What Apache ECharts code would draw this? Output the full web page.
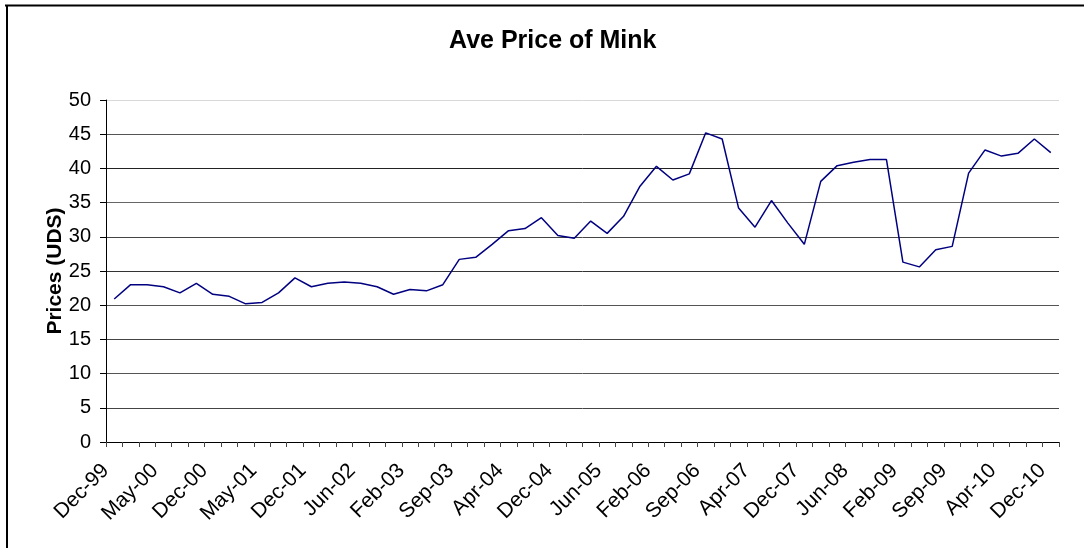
<!DOCTYPE html>
<html>
<head>
<meta charset="utf-8">
<script src="https://cdn.jsdelivr.net/npm/echarts@6/dist/echarts.min.js"></script>
<style>
html,body{margin:0;padding:0;background:#fff;}
#chart{width:1084px;height:548px;}
</style>
</head>
<body>
<div id="chart"></div>
<script>
const categories = [
  'Dec-99','Feb-00','Mar-00','May-00','Jun-00','Sep-00','Dec-00','Feb-01','Mar-01','May-01',
  'Jun-01','Sep-01','Dec-01','Feb-02','Apr-02','Jun-02','Sep-02','Dec-02','Feb-03','Apr-03',
  'Jun-03','Sep-03','Dec-03','Feb-04','Apr-04','Jun-04','Sep-04','Dec-04','Feb-05','Apr-05',
  'Jun-05','Sep-05','Dec-05','Feb-06','Apr-06','Jun-06','Sep-06','Dec-06','Feb-07','Apr-07',
  'Jun-07','Sep-07','Dec-07','Feb-08','Apr-08','Jun-08','Sep-08','Dec-08','Feb-09','Apr-09',
  'Jun-09','Sep-09','Dec-09','Feb-10','Apr-10','Jun-10','Sep-10','Dec-10'
];
const prices = [
  20.9, 23.0, 23.0, 22.7, 21.8, 23.2, 21.6, 21.3, 20.2, 20.4,
  21.8, 24.0, 22.7, 23.2, 23.4, 23.2, 22.7, 21.6, 22.3, 22.1,
  23.0, 26.7, 27.0, 28.9, 30.9, 31.2, 32.8, 30.2, 29.8, 32.3,
  30.5, 33.0, 37.4, 40.3, 38.3, 39.2, 45.2, 44.3, 34.2, 31.4,
  35.3, 32.0, 28.9, 38.1, 40.4, 40.9, 41.3, 41.3, 26.3, 25.6,
  28.1, 28.6, 39.3, 42.7, 41.8, 42.2, 44.3, 42.3
];
const yTicks = { min: 0, max: 50, interval: 5 };
const titleText = 'Ave Price of Mink';
const yName = 'Prices (UDS)';

const chart = echarts.init(document.getElementById('chart'), null, { renderer: 'canvas' });
const gridColors = ['#000', '#444', '#555', '#444', '#555', '#333', '#444', '#666', '#222', '#555', '#d8d8d8'];
chart.setOption({
  animation: false,
  backgroundColor: '#fff',
  title: {
    text: titleText,
    left: 444,
    top: 24,
    textStyle: { fontFamily: 'Liberation Sans, Arial, sans-serif', fontSize: 25, fontWeight: 'bold', color: '#000' }
  },
  grid: { left: 106, right: 25, top: 100, bottom: 106, containLabel: false },
  xAxis: {
    type: 'category',
    data: categories,
    boundaryGap: true,
    axisLine: { lineStyle: { color: '#000', width: 1 } },
    axisTick: { show: true, interval: 0, length: 5, lineStyle: { color: '#444' } },
    axisLabel: {
      interval: 2,
      rotate: 45,
      margin: 17,
      padding: [0, 12, 0, 0],
      fontFamily: 'Liberation Sans, Arial, sans-serif',
      fontSize: 21,
      color: '#000'
    },
    splitLine: { show: false }
  },
  yAxis: {
    type: 'value',
    min: yTicks.min,
    max: yTicks.max,
    interval: yTicks.interval,
    name: yName,
    nameLocation: 'middle',
    nameRotate: 90,
    nameGap: 40,
    nameMoveOverlap: false,
    nameTextStyle: { fontFamily: 'Liberation Sans, Arial, sans-serif', fontSize: 21, fontWeight: 'bold', color: '#000' },
    axisLine: { show: true, lineStyle: { color: '#000', width: 1 } },
    axisTick: { show: true, length: 6, lineStyle: { color: '#000' } },
    axisLabel: {
      margin: 15,
      fontFamily: 'Liberation Sans, Arial, sans-serif',
      fontSize: 20,
      color: '#000'
    },
    splitLine: { show: true, lineStyle: { color: gridColors, width: 1 } }
  },
  series: [{
    type: 'line',
    data: prices,
    symbol: 'none',
    lineStyle: { color: '#000080', width: 1.5 },
    itemStyle: { color: '#000080' }
  }],
  graphic: [
    { type: 'line', shape: { x1: 5, y1: 5.5, x2: 1084, y2: 5.5 }, style: { stroke: '#000', lineWidth: 2 } },
    { type: 'line', shape: { x1: 7, y1: 5, x2: 7, y2: 548 }, style: { stroke: '#000', lineWidth: 2 } }
  ]
});
</script>
</body>
</html>
